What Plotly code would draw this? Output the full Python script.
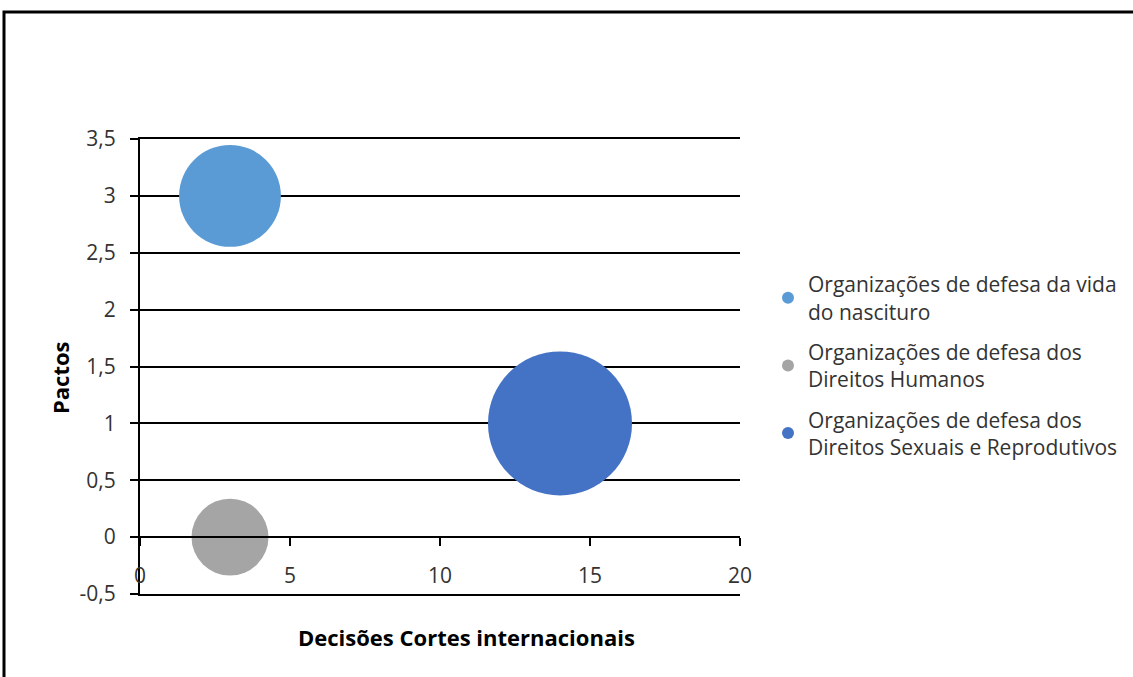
import plotly.graph_objects as go

series_names = [
    "Organizações de defesa da vida<br>do nascituro",
    "Organizações de defesa dos<br>Direitos Humanos",
    "Organizações de defesa dos<br>Direitos Sexuais e Reprodutivos",
]
x_decisoes = [3, 3, 14]
y_pactos = [3, 0, 1]
bubble_sizes = [7, 4, 14]
colors = ["#5B9BD5", "#A5A5A5", "#4472C4"]

y_tick_vals = [-0.5, 0, 0.5, 1, 1.5, 2, 2.5, 3, 3.5]
y_tick_text = ["-0,5", "0", "0,5", "1", "1,5", "2", "2,5", "3", "3,5"]
x_tick_vals = [0, 5, 10, 15, 20]
x_tick_text = ["0", "5", "10", "15", "20"]

x_title = "Decisões Cortes internacionais"
y_title = "Pactos"

FONT = "'Open Sans', sans-serif"
TXT = "#333333"
FS = 21
FT = 22
max_diam = 144
sizeref = 2 * max(bubble_sizes) / max_diam ** 2

fig = go.Figure()
for i, (name, xv, yv, s, c) in enumerate(zip(series_names, x_decisoes, y_pactos, bubble_sizes, colors)):
    fig.add_trace(go.Scatter(
        x=[xv], y=[yv], mode="markers", name=name, legendgroup=f"g{i}",
        marker=dict(size=[s], sizemode="area", sizeref=sizeref, color=c,
                    opacity=1, line=dict(width=0)),
        cliponaxis=False,
    ))

W, H = 1133, 677
L, R, T, B = 140, 740, 139, 594
y_lo, y_hi = -0.5, 3.5


def px_x(px):
    return (px - L) / (R - L)


def px_y(py):
    return (B - py) / (B - T)


fig.update_layout(
    width=W, height=H,
    margin=dict(l=L, r=W - R, t=T, b=H - B, autoexpand=False),
    paper_bgcolor="white", plot_bgcolor="white",
    separators=", ",
    font=dict(family=FONT, size=FS, color=TXT),
    showlegend=True,
    legend=dict(
        xref="container", yref="container",
        x=768 / W, y=1 - 264 / H, xanchor="left", yanchor="top",
        itemsizing="constant", tracegroupgap=10,
        font=dict(family=FONT, size=FS, color=TXT),
        bgcolor="rgba(0,0,0,0)", itemwidth=30,
    ),
    # bottom/top frame lines of the plot area (-0,5 and 3,5 grid lines)
    xaxis=dict(
        range=[0, 20], showline=True, mirror=True,
        linecolor="black", linewidth=2,
        showticklabels=False, ticks="", showgrid=False, zeroline=False,
        fixedrange=True, automargin=False,
    ),
    # category axis crossing at y = 0
    xaxis2=dict(
        range=[0, 20], tickvals=x_tick_vals, ticktext=x_tick_text,
        overlaying="x", anchor="free", position=(0 - y_lo) / (y_hi - y_lo),
        side="bottom",
        showline=True, linecolor="black", linewidth=2,
        ticks="outside", ticklen=8, tickwidth=2, tickcolor="black",
        showgrid=False, zeroline=False,
        ticklabelstandoff=12,
        tickfont=dict(family=FONT, size=FS, color=TXT),
        automargin=False, fixedrange=True,
    ),
    yaxis=dict(
        range=[y_lo, y_hi], tickvals=y_tick_vals, ticktext=y_tick_text,
        showline=True, linecolor="black", linewidth=2,
        ticks="outside", ticklen=8, tickwidth=2, tickcolor="black",
        showgrid=True, gridcolor="black", gridwidth=2,
        zeroline=False, ticklabelstandoff=10,
        tickfont=dict(family=FONT, size=FS, color=TXT),
        automargin=False, fixedrange=True,
    ),
    annotations=[
        dict(text=f"<b>{x_title}</b>", xref="paper", yref="paper",
             x=px_x(466), y=px_y(637), showarrow=False,
             xanchor="center", yanchor="middle",
             font=dict(family=FONT, size=FT, color="black")),
        dict(text=f"<b>{y_title}</b>", xref="paper", yref="paper",
             x=px_x(60), y=px_y(378), showarrow=False, textangle=-90,
             xanchor="center", yanchor="middle",
             font=dict(family=FONT, size=FT, color="black")),
    ],
)

# invisible helper so the overlaying axis is drawn with data attached
fig.add_trace(go.Scatter(x=[None], y=[None], xaxis="x2", yaxis="y",
                         showlegend=False, hoverinfo="skip"))

# outer frame of the figure (top and left edges visible)
fig.add_shape(type="rect", xref="paper", yref="paper",
              x0=px_x(4), x1=px_x(W + 20),
              y0=px_y(H + 20), y1=px_y(12),
              line=dict(color="black", width=3), layer="below")

fig.write_html("out.html")
